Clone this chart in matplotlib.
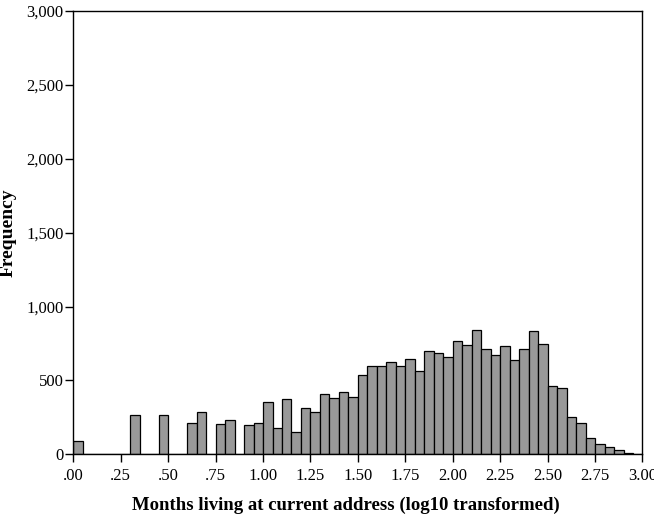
import matplotlib
matplotlib.use("Agg")
import matplotlib.pyplot as plt
import numpy as np

# histogram bins (log10 months), width .05 from 0 to 3
bin_edges = np.round(np.arange(0.0, 3.0001, 0.05), 2)
counts = [
    88, 0, 0, 0, 0, 0, 265, 0, 0, 265,           # .00 - .45
    0, 0, 210, 287, 0, 206, 231, 0, 201, 215,    # .50 - .95
    357, 179, 376, 152, 314, 285, 405, 378, 423, 389,  # 1.00 - 1.45
    538, 597, 595, 622, 600, 645, 566, 701, 683, 658,  # 1.50 - 1.95
    769, 740, 844, 715, 672, 735, 640, 710, 837, 749,  # 2.00 - 2.45
    462, 448, 249, 213, 113, 72, 52, 32, 7, 0,         # 2.50 - 2.95
]
x_ticks = [0.0, 0.25, 0.5, 0.75, 1.0, 1.25, 1.5, 1.75, 2.0, 2.25, 2.5, 2.75, 3.0]
x_tick_labels = [".00", ".25", ".50", ".75", "1.00", "1.25", "1.50", "1.75",
                 "2.00", "2.25", "2.50", "2.75", "3.00"]
y_ticks = [0, 500, 1000, 1500, 2000, 2500, 3000]
y_tick_labels = ["0", "500", "1,000", "1,500", "2,000", "2,500", "3,000"]

plt.rcParams['font.family'] = ['Liberation Serif', 'DejaVu Serif']

fig = plt.figure(figsize=(6.54, 5.15), dpi=100)
ax = fig.add_axes([0.1121, 0.1179, 0.8703, 0.8607])

ax.bar(bin_edges[:-1], counts, width=0.05, align='edge',
       color='#999999', edgecolor='black', linewidth=0.9)

ax.set_xlim(0, 3.0)
ax.set_ylim(0, 3000)
ax.set_xticks(x_ticks)
ax.set_xticklabels(x_tick_labels)
ax.set_yticks(y_ticks)
ax.set_yticklabels(y_tick_labels)
ax.tick_params(axis='both', direction='out', length=6, width=1, labelsize=12)
ax.tick_params(axis='x', pad=4)
ax.tick_params(axis='y', pad=1)

for s in ax.spines.values():
    s.set_linewidth(1)

ax.set_xlabel('Months living at current address (log10 transformed)',
              fontsize=13.5, fontweight='bold')
ax.xaxis.set_label_coords(0.478, -0.096)
ax.set_ylabel('Frequency', fontsize=14, fontweight='bold')
ax.yaxis.set_label_coords(-0.1, 0.5)

fig.savefig('out.png', dpi=100)
